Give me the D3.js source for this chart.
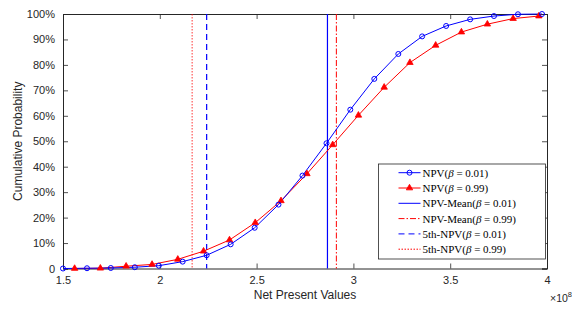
<!DOCTYPE html>
<html>
<head>
<meta charset="utf-8">
<script src="https://cdn.jsdelivr.net/npm/d3@7"></script>
<style>
  body { margin: 0; background: #fff; }
  svg { display: block; }
</style>
</head>
<body>
<svg id="chart"></svg>
<script>
// NPV values (x10^8) and cumulative probability (%)
const blueX = [1.500, 1.624, 1.747, 1.871, 1.995, 2.118, 2.242, 2.366, 2.490, 2.613, 2.737,
  2.861, 2.984, 3.108, 3.232, 3.355, 3.479, 3.603, 3.726, 3.850, 3.974];
const blueY = [0, 0.1, 0.2, 0.5, 1.1, 2.7, 5.2, 9.5, 16.0, 25.1, 36.5,
  49.2, 62.4, 74.5, 84.3, 91.2, 95.3, 97.9, 99.2, 99.9, 100];

const redX = [1.560, 1.693, 1.826, 1.960, 2.093, 2.226, 2.360, 2.493, 2.626, 2.760,
  2.893, 3.026, 3.159, 3.292, 3.425, 3.558, 3.692, 3.825, 3.958];
const redY = [0, 0.1, 0.9, 1.6, 3.6, 6.8, 11.2, 18.0, 26.6, 37.2,
  48.6, 60.2, 71.2, 80.9, 87.7, 92.9, 96.0, 98.2, 99.2];

const meanBlue = 2.866, meanRed = 2.912;
const p5Blue = 2.242, p5Red = 2.167;

const xTicks = [1.5, 2, 2.5, 3, 3.5, 4];
const yTicks = [0, 10, 20, 30, 40, 50, 60, 70, 80, 90, 100];

const legendLabels = [
  ['NPV(', '\u03b2', ' = 0.01)'],
  ['NPV(', '\u03b2', ' = 0.99)'],
  ['NPV-Mean(', '\u03b2', ' = 0.01)'],
  ['NPV-Mean(', '\u03b2', ' = 0.99)'],
  ['5th-NPV(', '\u03b2', ' = 0.01)'],
  ['5th-NPV(', '\u03b2', ' = 0.99)']
];

const width = 572, height = 315;
const margin = { top: 14, right: 25, bottom: 46.5, left: 63 };
const w = width - margin.left - margin.right;
const h = height - margin.top - margin.bottom;
const axisColor = '#262626';
const BLUE = '#0000ff', RED = '#ff0000';

const svg = d3.select('#chart').attr('width', width).attr('height', height);
const g = svg.append('g').attr('transform', `translate(${margin.left},${margin.top})`);

const x = d3.scaleLinear().domain([1.5, 4]).range([0, w]);
const y = d3.scaleLinear().domain([0, 100]).range([h, 0]);

// axes (MATLAB style: inward ticks on all sides)
const tickFont = '11px "Liberation Sans", Arial, sans-serif';
const fmtY = d => d === 0 ? '0' : d + '%';

const xb = g.append('g').attr('transform', `translate(0,${h})`)
  .call(d3.axisBottom(x).tickValues(xTicks).tickSize(-5).tickPadding(8).tickFormat(d3.format('')));
const xt = g.append('g')
  .call(d3.axisTop(x).tickValues(xTicks).tickSize(-5).tickFormat(''));
const yl = g.append('g')
  .call(d3.axisLeft(y).tickValues(yTicks).tickSize(-5).tickPadding(8).tickFormat(fmtY));
const yr = g.append('g').attr('transform', `translate(${w},0)`)
  .call(d3.axisRight(y).tickValues(yTicks).tickSize(-5).tickFormat(''));

[xb, xt, yl, yr].forEach(a => {
  a.select('.domain').attr('stroke', axisColor).attr('stroke-width', 1);
  a.selectAll('.tick line').attr('stroke', axisColor).attr('stroke-width', 0.8);
  a.selectAll('text').style('font', tickFont).attr('fill', axisColor);
});

// vertical reference lines
const vlines = [
  { v: meanBlue, color: BLUE, dash: null, sw: 1.2 },
  { v: meanRed, color: RED, dash: '6,2,1.5,2', sw: 1 },
  { v: p5Blue, color: BLUE, dash: '6,4', sw: 1.2 },
  { v: p5Red, color: RED, dash: '1.5,1.5', sw: 0.8 }
];
g.selectAll('.vline').data(vlines).enter().append('line')
  .attr('class', 'vline')
  .attr('x1', d => x(d.v)).attr('x2', d => x(d.v))
  .attr('y1', 0).attr('y2', h)
  .attr('stroke', d => d.color)
  .attr('stroke-width', d => d.sw)
  .attr('stroke-dasharray', d => d.dash);

const line = d3.line().x(d => x(d[0])).y(d => y(d[1]));
const blueData = blueX.map((v, i) => [v, blueY[i]]);
const redData = redX.map((v, i) => [v, redY[i]]);

g.append('path').datum(redData).attr('d', line)
  .attr('fill', 'none').attr('stroke', RED).attr('stroke-width', 1);
g.append('path').datum(blueData).attr('d', line)
  .attr('fill', 'none').attr('stroke', BLUE).attr('stroke-width', 1);

const tri = d3.symbol().type(d3.symbolTriangle).size(18);
g.selectAll('.tri').data(redData).enter().append('path')
  .attr('class', 'tri')
  .attr('transform', d => `translate(${x(d[0])},${y(d[1])})`)
  .attr('d', tri)
  .attr('fill', RED).attr('stroke', RED).attr('stroke-width', 0.8);

g.selectAll('.circ').data(blueData).enter().append('circle')
  .attr('class', 'circ')
  .attr('cx', d => x(d[0])).attr('cy', d => y(d[1]))
  .attr('r', 2.5)
  .attr('fill', 'none').attr('stroke', BLUE).attr('stroke-width', 1);

// axis labels
svg.append('text')
  .attr('x', margin.left + w / 2).attr('y', 299)
  .attr('text-anchor', 'middle')
  .style('font', '12px "Liberation Sans", Arial, sans-serif')
  .attr('fill', axisColor)
  .text('Net Present Values');

svg.append('text')
  .attr('transform', `translate(22,${margin.top + h / 2}) rotate(-90)`)
  .attr('text-anchor', 'middle')
  .style('font', '12px "Liberation Sans", Arial, sans-serif')
  .attr('fill', axisColor)
  .text('Cumulative Probability');

// x10^8 exponent
const expo = svg.append('text')
  .attr('x', 550).attr('y', 302)
  .style('font', '10.5px "Liberation Sans", Arial, sans-serif')
  .attr('fill', axisColor);
expo.append('tspan').text('\u00d710');
expo.append('tspan').attr('dy', -5).style('font-size', '7.5px').text('8');

// legend
const legend = svg.append('g').attr('transform', 'translate(378.5,164)');
legend.append('rect')
  .attr('width', 167).attr('height', 95)
  .attr('fill', '#fff').attr('stroke', axisColor).attr('stroke-width', 0.8);

const legendItems = [
  { color: BLUE, dash: null, marker: 'circle' },
  { color: RED, dash: null, marker: 'tri' },
  { color: BLUE, dash: null, marker: null },
  { color: RED, dash: '6,2,1.5,2', marker: null },
  { color: BLUE, dash: '6,4', marker: null },
  { color: RED, dash: '1.5,1.5', marker: null }
];
const rowY = i => 8.7 + i * 15.3;

legendItems.forEach((it, i) => {
  const row = legend.append('g').attr('transform', `translate(0,${rowY(i)})`);
  row.append('line')
    .attr('x1', 20).attr('x2', 42)
    .attr('stroke', it.color).attr('stroke-width', 1)
    .attr('stroke-dasharray', it.dash);
  if (it.marker === 'circle') {
    row.append('circle').attr('cx', 31).attr('r', 2.5)
      .attr('fill', 'none').attr('stroke', it.color).attr('stroke-width', 1);
  } else if (it.marker === 'tri') {
    row.append('path').attr('transform', 'translate(31,0)').attr('d', tri)
      .attr('fill', it.color).attr('stroke', it.color).attr('stroke-width', 0.8);
  }
  const t = row.append('text')
    .attr('x', 44).attr('y', 4)
    .style('font', '11px "Liberation Serif", "Times New Roman", serif')
    .attr('fill', '#000');
  const parts = legendLabels[i];
  t.append('tspan').text(parts[0]);
  t.append('tspan').style('font-style', 'italic').text(parts[1]);
  t.append('tspan').text(parts[2]);
});
</script>
</body>
</html>
